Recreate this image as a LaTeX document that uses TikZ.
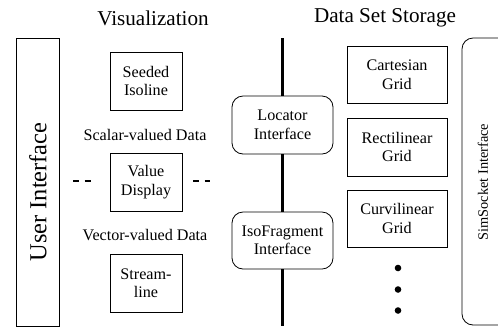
\documentclass[tikz,border=0pt]{standalone}
\usepackage{fontspec}
\setmainfont{Liberation Serif}
\usepackage{tikz}

\begin{document}
\begin{tikzpicture}[x=1bp, y=-1bp,
    box/.style={draw, line width=0.8bp, align=center, inner sep=0pt,
        minimum width=72bp, minimum height=58bp,
        font=\fontsize{16.2}{18.6}\selectfont},
    gridbox/.style={box, minimum width=100bp, minimum height=57bp},
    iface/.style={box, rounded corners=11bp, minimum width=101bp, minimum height=58bp},
    label/.style={font=\fontsize{16.2}{18.6}\selectfont},
    title/.style={font=\fontsize{21.2}{24}\selectfont},
    bus/.style={line width=2.7bp},
    stub/.style={line width=1.5bp, dash pattern=on 6bp off 5.5bp}]
    \useasboundingbox (0,0) rectangle (498,329);

    % headings
    \node[title] (vis) at (153,18) {Visualization};
    \node[title] (dss) at (385,18) {Data Set Storage};

    % user interface bar
    \node[draw, line width=0.8bp, minimum width=43bp, minimum height=288bp, inner sep=0pt] (ui) at (37.5,182) {};
    \node[rotate=90, font=\fontsize{24.5}{28}\selectfont] (uitext) at (38,192) {User Interface};

    % visualization modules
    \node[box] (seeded) at (146,81) {Seeded\\Isoline};
    \node[label] (scalar) at (145,135) {Scalar-valued Data};
    \node[box] (value) at (146,182) {Value\\Display};
    \node[label] (vector) at (145,235) {Vector-valued Data};
    \node[box] (stream) at (146,283) {Stream-\\line};

    \coordinate (dl1) at (73,181);
    \coordinate (dl2) at (91,181);
    \coordinate (dr1) at (193,181);
    \coordinate (dr2) at (210,181);
    \draw[stub] (dl1) -- (dl2);
    \draw[stub] (dr1) -- (dr2);

    % interfaces on the bus
    \node[iface] (locator) at (282.5,125) {Locator\\Interface};
    \node[iface, minimum height=57bp] (isofrag) at (282.5,240.5) {IsoFragment\\Interface};
    \coordinate (bustop) at (282.5,38);
    \coordinate (busbot) at (282.5,326);
    \draw[bus] (bustop) -- (locator.north);
    \draw[bus] (locator.south) -- (isofrag.north);
    \draw[bus] (isofrag.south) -- (busbot);

    % grids
    \node[gridbox] (cart) at (397,74.5) {Cartesian\\Grid};
    \node[gridbox, minimum height=58bp] (recti) at (397,147) {Rectilinear\\Grid};
    \node[gridbox] (curvi) at (397,218.5) {Curvilinear\\Grid};
    \fill (398,268) circle (3.3bp);
    \fill (398,289.5) circle (3.3bp);
    \fill (398,310.5) circle (3.3bp);

    % simsocket
    \draw[line width=0.8bp, rounded corners=11bp] (498,38) -- (462,38) -- (462,325) -- (498,325);
    \node[rotate=90, font=\fontsize{14.4}{17}\selectfont] (sims) at (483,182) {SimSocket Interface};
\end{tikzpicture}
\end{document}
